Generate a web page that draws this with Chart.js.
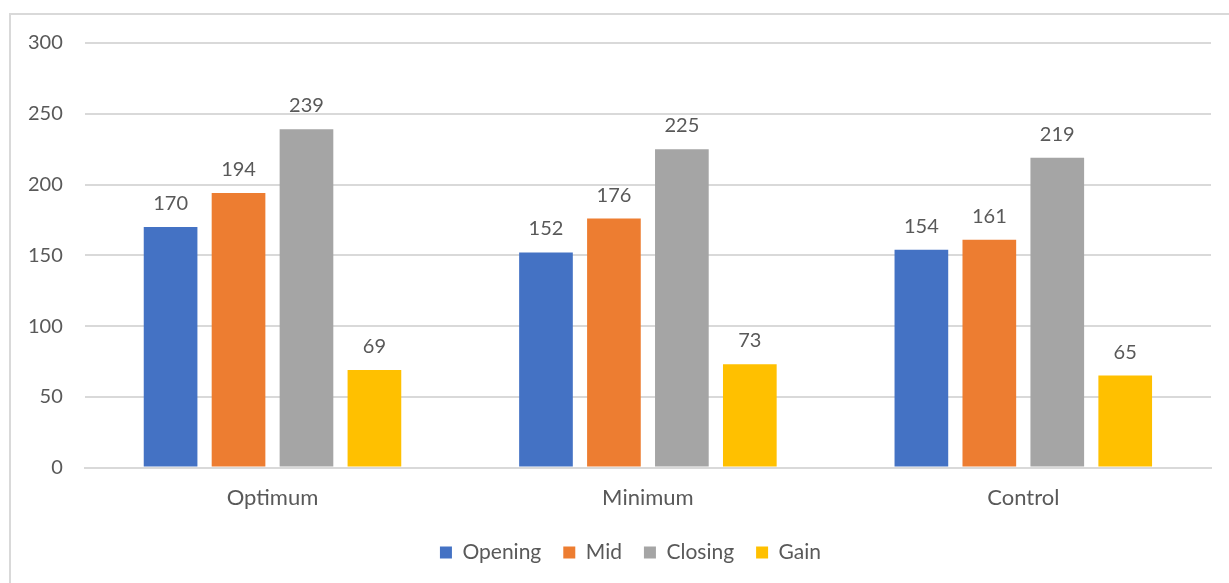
<!DOCTYPE html>
<html lang="en">
<head>
  <meta charset="UTF-8" />
  <title>Opening, Mid, Closing and Gain</title>
  <script src="https://cdn.jsdelivr.net/npm/chart.js"></script>
  <style>
    html, body { margin: 0; padding: 0; overflow: hidden; background: #fff; }
    .frame {
      position: absolute; left: 9px; top: 13px;
      width: 1260px; height: 620px;
      border: 2px solid #d9d9d9;
    }
    .wrap { position: absolute; left: 0; top: 0; width: 1229px; height: 583px; }
  </style>
</head>
<body>
  <div class="frame"></div>
  <div class="wrap"><canvas id="grafico"></canvas></div>

  <script>
    const categorias = ['Optimum', 'Minimum', 'Control'];
    const opening = [170, 152, 154];
    const mid = [194, 176, 161];
    const closing = [239, 225, 219];
    const gain = [69, 73, 65];
    const ticksY = [0, 50, 100, 150, 200, 250, 300];

    const familia = 'Lato, "Open Sans", sans-serif';
    const fonteNum = { family: familia, size: 20 };
    const fonteTexto = { family: familia, size: 22 };
    const fonteLegenda = { family: familia, size: 21 };
    const cinzaTexto = '#595959';
    const cinzaGrade = '#d9d9d9';

    // escreve o valor acima de cada barra
    const rotulos = {
      id: 'rotulos',
      afterDatasetsDraw(chart) {
        const ctx = chart.ctx;
        ctx.save();
        ctx.font = `${fonteNum.size}px ${familia}`;
        ctx.fillStyle = cinzaTexto;
        ctx.textAlign = 'center';
        ctx.textBaseline = 'alphabetic';
        chart.data.datasets.forEach((ds, i) => {
          chart.getDatasetMeta(i).data.forEach((bar, j) => {
            ctx.fillText(ds.data[j], bar.x, bar.y - 17);
          });
        });
        ctx.restore();
      }
    };

    // empurra a legenda um pouco para a direita
    const deslocaLegenda = {
      id: 'deslocaLegenda',
      afterLayout(chart) {
        chart.legend.left += 22;
        chart.legend.right += 22;
      }
    };

    const serie = (label, data, cor) => ({
      label, data,
      backgroundColor: cor,
      categoryPercentage: 0.724,
      barPercentage: 0.79
    });

    new Chart(document.getElementById('grafico'), {
      type: 'bar',
      data: {
        labels: categorias,
        datasets: [
          serie('Opening', opening, '#4472c4'),
          serie('Mid', mid, '#ed7d31'),
          serie('Closing', closing, '#a5a5a5'),
          serie('Gain', gain, '#ffc000')
        ]
      },
      options: {
        responsive: true,
        maintainAspectRatio: false,
        animation: false,
        layout: { padding: { top: 43, left: 6, right: 18, bottom: 10 } },
        plugins: {
          legend: {
            position: 'bottom',
            labels: {
              color: cinzaTexto,
              font: fonteLegenda,
              boxWidth: 12,
              boxHeight: 12,
              padding: 22
            }
          },
          tooltip: { enabled: false }
        },
        scales: {
          x: {
            grid: { display: false },
            border: { color: cinzaGrade, width: 2 },
            ticks: { color: cinzaTexto, font: fonteTexto, padding: 9 }
          },
          y: {
            min: 0,
            max: 300,
            afterBuildTicks: axis => { axis.ticks = ticksY.map(v => ({ value: v })); },
            grid: { color: cinzaGrade, lineWidth: 2, drawTicks: false },
            border: { display: false },
            ticks: { color: cinzaTexto, font: fonteNum, padding: 22 }
          }
        }
      },
      plugins: [rotulos, deslocaLegenda]
    });
  </script>
</body>
</html>
